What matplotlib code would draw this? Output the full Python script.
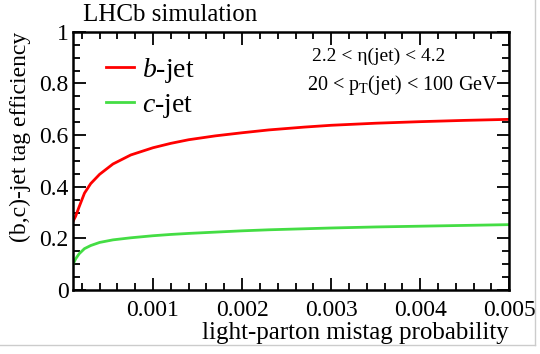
import matplotlib
matplotlib.use("Agg")
import matplotlib.pyplot as plt
from matplotlib.ticker import MultipleLocator, FormatStrFormatter
from matplotlib.lines import Line2D

plt.rcParams['font.family'] = ['Liberation Serif', 'DejaVu Serif']
plt.rcParams['mathtext.fontset'] = 'custom'
plt.rcParams['mathtext.rm'] = 'Liberation Serif'
plt.rcParams['mathtext.it'] = 'Liberation Serif:italic'

# values
mistag = [0.0001, 0.00013, 0.00017, 0.00023, 0.0003, 0.0004, 0.00055, 0.00075, 0.001, 0.0012,
          0.0014, 0.0017, 0.002, 0.0023, 0.0027, 0.003, 0.0035, 0.004, 0.0045, 0.005]
b_eff = [0.265, 0.285, 0.322, 0.375, 0.412, 0.448, 0.488, 0.523, 0.551, 0.568,
         0.582, 0.597, 0.609, 0.62, 0.631, 0.638, 0.646, 0.652, 0.657, 0.661]
c_eff = [0.098, 0.12, 0.14, 0.16, 0.172, 0.184, 0.194, 0.202, 0.21, 0.215,
         0.219, 0.224, 0.229, 0.233, 0.237, 0.24, 0.244, 0.247, 0.25, 0.253]

fig = plt.figure(figsize=(5.4, 3.54), dpi=100)
ax = fig.add_axes([0.135, 0.181, 0.808, 0.729])

ax.plot(mistag, b_eff, color='#ff0000', lw=2, label='$b$-jet')
ax.plot(mistag, c_eff, color='#44dd44', lw=2, label='$c$-jet')

ax.set_xlim(0.0001, 0.005)
ax.set_ylim(0, 1)
ax.xaxis.set_major_locator(MultipleLocator(0.001))
ax.xaxis.set_minor_locator(MultipleLocator(0.0002))
ax.yaxis.set_major_locator(MultipleLocator(0.2))
ax.yaxis.set_minor_locator(MultipleLocator(0.05))
ax.xaxis.set_major_formatter(FormatStrFormatter('%g'))
ax.yaxis.set_major_formatter(FormatStrFormatter('%g'))
ax.tick_params(which='both', direction='in', top=True, right=True, width=1.3, labelsize=17)
ax.tick_params(which='major', length=9)
ax.tick_params(which='minor', length=5)
ax.tick_params(axis='x', pad=7)
ax.tick_params(axis='y', pad=3)
for s in ax.spines.values():
    s.set_linewidth(1.8)

ax.set_xlabel('light-parton mistag probability', fontsize=18, loc='right', labelpad=1)
ax.set_ylabel('(b,c)-jet tag efficiency', fontsize=17, loc='top', labelpad=6)

ax.legend(loc='upper left', bbox_to_anchor=(0.05, 0.95), frameon=False, fontsize=20,
          handlelength=1.0, handletextpad=0.3, labelspacing=0.25, borderaxespad=0)

ax.text(0.70, 0.905, '2.2 < \u03b7(jet) < 4.2', transform=ax.transAxes,
        ha='center', va='center', fontsize=14)
ax.text(0.755, 0.795, '20 < p$_\\mathrm{T}$(jet) < 100 GeV', transform=ax.transAxes,
        ha='center', va='center', fontsize=14.5)
fig.text(83 / 540, 1 - 15 / 354, 'LHCb simulation', ha='left', va='center', fontsize=18)

fig.add_artist(Line2D([535 / 540, 535 / 540], [1 - 345 / 354, 1], color='#cccccc', lw=1))
fig.add_artist(Line2D([0, 535 / 540], [1 - 345 / 354, 1 - 345 / 354], color='#cccccc', lw=1))

fig.savefig('out.png', dpi=100)
